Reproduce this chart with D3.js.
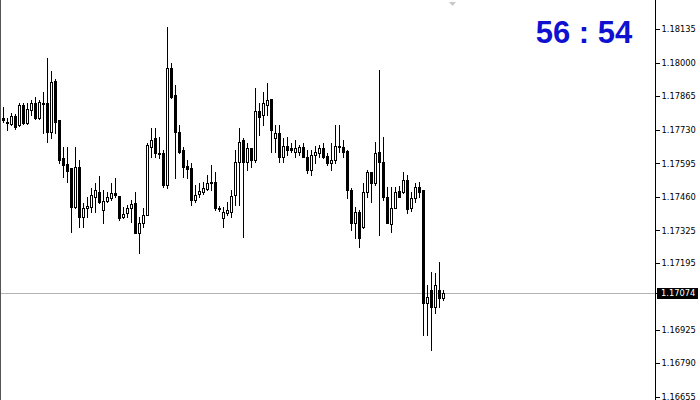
<!DOCTYPE html>
<html>
<head>
<meta charset="utf-8">
<script src="https://cdn.jsdelivr.net/npm/d3@7"></script>
<style>
body{margin:0;background:#fff}
svg{display:block}
</style>
</head>
<body>
<svg width="700" height="400"></svg>
<script>
// candles, oldest first
var opens = [1.17777,1.17757,1.17753,1.17785,1.17749,1.17830,1.17757,1.17810,1.17838,1.17777,
  1.17840,1.17838,1.17721,1.17927,1.17769,1.17616,1.17592,1.17576,1.17419,1.17580,
  1.17378,1.17415,1.17419,1.17459,1.17479,1.17407,1.17443,1.17455,1.17475,1.17463,
  1.17378,1.17395,1.17415,1.17435,1.17314,1.17354,1.17387,1.17661,1.17697,1.17636,
  1.17636,1.17507,1.17979,1.17870,1.17721,1.17648,1.17584,1.17576,1.17447,1.17471,
  1.17479,1.17491,1.17520,1.17520,1.17415,1.17374,1.17395,1.17399,1.17467,1.17600,
  1.17689,1.17600,1.17657,1.17608,1.17806,1.17790,1.17830,1.17854,1.17697,1.17717,
  1.17620,1.17665,1.17657,1.17640,1.17640,1.17661,1.17620,1.17568,1.17628,1.17636,
  1.17657,1.17624,1.17596,1.17608,1.17665,1.17661,1.17644,1.17487,1.17354,1.17399,
  1.17338,1.17479,1.17560,1.17515,1.17640,1.17600,1.17459,1.17350,1.17415,1.17483,
  1.17479,1.17528,1.17415,1.17455,1.17499,1.17487,1.17032,1.17084,1.17016,1.17084,
  1.17052];
var highs = [1.17822,1.17777,1.17798,1.17794,1.17838,1.17838,1.17838,1.17850,1.17862,1.17850,
  1.17882,1.18019,1.17967,1.17935,1.17769,1.17661,1.17661,1.17576,1.17661,1.17608,
  1.17435,1.17459,1.17495,1.17515,1.17544,1.17487,1.17479,1.17515,1.17536,1.17463,
  1.17419,1.17427,1.17447,1.17479,1.17378,1.17415,1.17677,1.17737,1.17737,1.17701,
  1.17648,1.18144,1.17999,1.17910,1.17749,1.17661,1.17608,1.17596,1.17507,1.17515,
  1.17520,1.17548,1.17588,1.17560,1.17423,1.17419,1.17439,1.17487,1.17648,1.17737,
  1.17697,1.17677,1.17657,1.17898,1.17838,1.17882,1.17918,1.17854,1.17749,1.17749,
  1.17697,1.17701,1.17677,1.17689,1.17669,1.17677,1.17648,1.17648,1.17665,1.17669,
  1.17677,1.17636,1.17677,1.17749,1.17749,1.17689,1.17648,1.17495,1.17419,1.17407,
  1.17515,1.17568,1.17560,1.17681,1.17971,1.17701,1.17499,1.17499,1.17499,1.17503,
  1.17560,1.17548,1.17479,1.17515,1.17520,1.17487,1.17104,1.17157,1.17153,1.17197,
  1.17084];
var lows = [1.17761,1.17729,1.17749,1.17733,1.17745,1.17753,1.17753,1.17790,1.17773,1.17773,
  1.17717,1.17681,1.17697,1.17717,1.17596,1.17540,1.17520,1.17318,1.17415,1.17338,
  1.17338,1.17378,1.17399,1.17399,1.17435,1.17354,1.17439,1.17447,1.17459,1.17366,
  1.17374,1.17378,1.17358,1.17314,1.17233,1.17338,1.17387,1.17620,1.17620,1.17616,
  1.17499,1.17495,1.17858,1.17536,1.17636,1.17540,1.17536,1.17427,1.17439,1.17459,
  1.17471,1.17487,1.17487,1.17407,1.17403,1.17338,1.17387,1.17378,1.17427,1.17427,
  1.17298,1.17568,1.17580,1.17600,1.17709,1.17749,1.17790,1.17640,1.17640,1.17600,
  1.17600,1.17628,1.17640,1.17620,1.17628,1.17620,1.17556,1.17548,1.17596,1.17620,
  1.17616,1.17588,1.17568,1.17596,1.17640,1.17620,1.17455,1.17326,1.17294,1.17258,
  1.17334,1.17459,1.17439,1.17507,1.17306,1.17447,1.17354,1.17318,1.17415,1.17459,
  1.17475,1.17395,1.17403,1.17439,1.17459,1.16903,1.16903,1.16842,1.16992,1.17016,
  1.17044];
var closes = [1.17769,1.17761,1.17785,1.17741,1.17830,1.17757,1.17814,1.17838,1.17777,1.17842,
  1.17838,1.17721,1.17923,1.17761,1.17608,1.17588,1.17564,1.17419,1.17580,1.17378,
  1.17415,1.17423,1.17467,1.17487,1.17439,1.17443,1.17459,1.17475,1.17467,1.17374,
  1.17391,1.17415,1.17431,1.17314,1.17354,1.17387,1.17669,1.17689,1.17636,1.17634,
  1.17507,1.17979,1.17862,1.17721,1.17640,1.17580,1.17572,1.17447,1.17467,1.17483,
  1.17495,1.17515,1.17515,1.17415,1.17411,1.17399,1.17407,1.17463,1.17600,1.17681,
  1.17600,1.17657,1.17608,1.17806,1.17781,1.17838,1.17850,1.17729,1.17717,1.17620,
  1.17665,1.17648,1.17648,1.17657,1.17661,1.17620,1.17568,1.17628,1.17640,1.17657,
  1.17620,1.17596,1.17608,1.17665,1.17663,1.17640,1.17487,1.17354,1.17399,1.17294,
  1.17479,1.17560,1.17515,1.17636,1.17600,1.17459,1.17354,1.17415,1.17479,1.17459,
  1.17528,1.17411,1.17455,1.17499,1.17479,1.17032,1.17056,1.17016,1.17104,1.17052,
  1.17074];

var priceTicks = [1.18135,1.18000,1.17865,1.17730,1.17595,1.17460,1.17325,1.17195,1.16925,1.16790,1.16655];
var lastPrice = 1.17074;
var timerText = "56 : 54";

var svg = d3.select("svg"),
    width = +svg.attr("width"),
    height = +svg.attr("height");
var axisX = 655.5;

var x = d3.scaleLinear().domain([0, opens.length - 1]).range([3.5, 3.5 + 4 * (opens.length - 1)]);
var y = d3.scaleLinear().domain([1.16655, 1.18135]).range([396.7, 29.3]);
var ry = function(v) { return Math.round(y(v)); };

var candles = d3.range(opens.length).map(function(i) {
  return {i: i, o: opens[i], h: highs[i], l: lows[i], c: closes[i]};
});

// current price line
svg.append("line")
  .attr("x1", 0).attr("x2", axisX)
  .attr("y1", ry(lastPrice) + 0.5).attr("y2", ry(lastPrice) + 0.5)
  .attr("stroke", "#b4b4b4");

var g = svg.append("g").attr("shape-rendering", "crispEdges");
var node = g.selectAll(".candle").data(candles).enter().append("g").attr("class", "candle");

node.append("line")
  .attr("x1", function(d) { return x(d.i); })
  .attr("x2", function(d) { return x(d.i); })
  .attr("y1", function(d) { return ry(d.h); })
  .attr("y2", function(d) { return ry(d.l) + 1; })
  .attr("stroke", "#000");

node.append("rect")
  .attr("x", function(d) { return x(d.i) - 1; })
  .attr("width", 2)
  .attr("y", function(d) { return ry(Math.max(d.o, d.c)) + 0.5; })
  .attr("height", function(d) { return Math.max(ry(Math.min(d.o, d.c)) - ry(Math.max(d.o, d.c)), 1); })
  .attr("fill", function(d) { return d.c >= d.o ? "#fff" : "#000"; })
  .attr("stroke", "#000");

// price axis
var axis = d3.axisRight(y).tickValues(priceTicks).tickSize(4).tickPadding(2)
  .tickFormat(d3.format(".5f"));
var ag = svg.append("g").attr("transform", "translate(" + axisX + ",0)")
  .attr("shape-rendering", "crispEdges").call(axis);
ag.select(".domain").remove();
ag.selectAll("text").attr("font-family", "'DejaVu Sans', sans-serif")
  .attr("font-size", "8.3px").attr("fill", "#000");
ag.selectAll(".tick line").attr("stroke", "#000");
svg.append("line").attr("x1", axisX).attr("x2", axisX).attr("y1", 0).attr("y2", height)
  .attr("stroke", "#000");

// current price label
var ly = ry(lastPrice) + 0.5;
svg.append("line").attr("x1", axisX).attr("x2", axisX + 4).attr("y1", ly).attr("y2", ly).attr("stroke", "#000");
svg.append("rect").attr("x", 657).attr("y", ly - 5.5).attr("width", 41).attr("height", 11).attr("fill", "#000");
svg.append("text").attr("x", 661).attr("y", ly).attr("dy", "0.34em")
  .attr("font-family", "'DejaVu Sans', sans-serif").attr("font-size", "8.3px")
  .attr("fill", "#fff").text(d3.format(".5f")(lastPrice));

// chart shift marker
svg.append("path").attr("d", "M449,2 L456,2 L452.5,6 Z").attr("fill", "#c8c8c8");

// left frame
svg.append("line").attr("x1", 0.5).attr("x2", 0.5).attr("y1", 0).attr("y2", height).attr("stroke", "#555");

// timer
svg.append("text").attr("x", 584).attr("y", 42.5).attr("text-anchor", "middle")
  .attr("font-family", "'Liberation Sans', Arial, sans-serif").attr("font-weight", "bold")
  .attr("font-size", "31px").attr("fill", "#1010d0").text(timerText);
</script>
</body>
</html>
